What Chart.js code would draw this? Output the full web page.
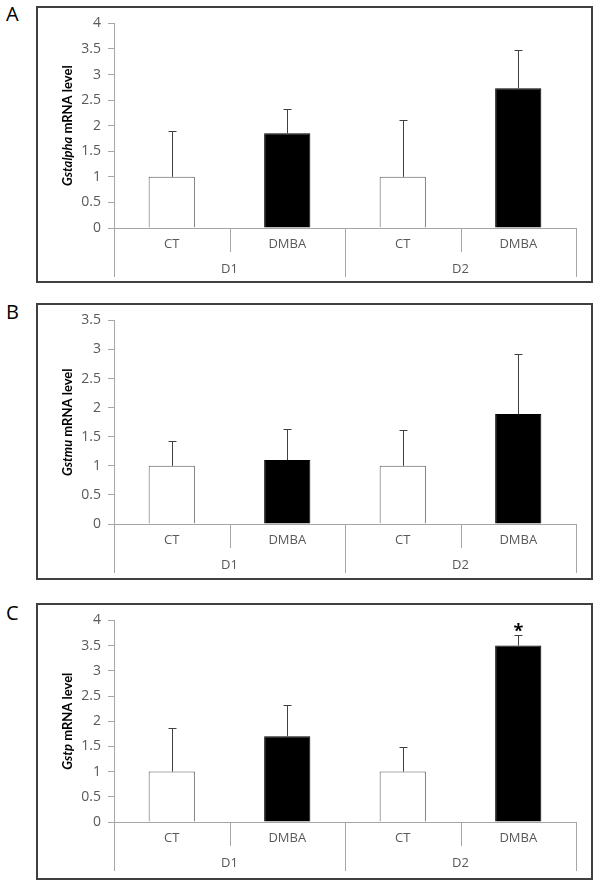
<!DOCTYPE html>
<html>
<head>
<meta charset="utf-8">
<script src="https://cdn.jsdelivr.net/npm/chart.js@4/dist/chart.umd.min.js"></script>
<style>
  body { margin: 0; background: #fff; width: 600px; height: 887px; position: relative; font-family: "Open Sans", sans-serif; }
  .panel { position: absolute; left: 36px; width: 557px; height: 277px; box-sizing: border-box; border: 2px solid #404040; }
  .panel canvas { display: block; }
  .tag { position: absolute; left: 6px; font-size: 20px; line-height: 1; color: #000; }
</style>
</head>
<body>
<div class="tag" style="top:4px">A</div>
<div class="panel" style="top:6px"><canvas id="chartA" width="553" height="273"></canvas></div>
<div class="tag" style="top:302px">B</div>
<div class="panel" style="top:303px"><canvas id="chartB" width="553" height="273"></canvas></div>
<div class="tag" style="top:603px">C</div>
<div class="panel" style="top:603px"><canvas id="chartC" width="553" height="273"></canvas></div>

<script>
// categories
const treatments = ["CT", "DMBA", "CT", "DMBA"];
const days = ["D1", "D2"];

// Gstalpha (panel A)
const gstalphaMean = [1, 1.85, 1, 2.73];
const gstalphaSd = [0.89, 0.48, 1.12, 0.75];

// Gstmu (panel B)
const gstmuMean = [1, 1.10, 1, 1.89];
const gstmuSd = [0.42, 0.53, 0.61, 1.03];

// Gstp (panel C)
const gstpMean = [1, 1.70, 1, 3.50];
const gstpSd = [0.86, 0.62, 0.48, 0.22];
const gstpStars = ["", "", "", "*"];

const axisGrey = "#a6a6a6";
const textGrey = "#595959";

function drawExtras(chart, sd, stars, gene) {
  const { ctx, chartArea: a, scales: { x, y } } = chart;
  const means = chart.data.datasets[0].data;
  ctx.save();

  // error bars (upper only)
  ctx.lineWidth = 1;
  ctx.strokeStyle = "#404040";
  means.forEach((m, i) => {
    const px = Math.round(x.getPixelForValue(i)) + 0.5;
    const y0 = y.getPixelForValue(m);
    const y1 = Math.round(y.getPixelForValue(m + sd[i])) + 0.5;
    ctx.beginPath();
    ctx.moveTo(px, y0);
    ctx.lineTo(px, y1);
    ctx.moveTo(px - 4, y1);
    ctx.lineTo(px + 4, y1);
    ctx.stroke();
    if (stars && stars[i]) {
      ctx.fillStyle = "#000";
      ctx.font = 'bold 18px "Open Sans"';
      ctx.textAlign = "center";
      ctx.textBaseline = "alphabetic";
      ctx.fillText(stars[i], px, y1 + 1);
    }
  });

  // two-level category axis separators
  const n = treatments.length;
  const per = n / days.length;
  const edge = i => i === 0 ? a.left : i === n ? a.right
    : (x.getPixelForValue(i - 1) + x.getPixelForValue(i)) / 2;
  ctx.strokeStyle = axisGrey;
  for (let i = 0; i <= n; i++) {
    const px = Math.round(edge(i)) + 0.5;
    const len = i % per === 0 ? 49 : 24;
    ctx.beginPath();
    ctx.moveTo(px, a.bottom);
    ctx.lineTo(px, a.bottom + len);
    ctx.stroke();
  }
  ctx.fillStyle = textGrey;
  ctx.font = '13px "Open Sans"';
  ctx.textAlign = "center";
  ctx.textBaseline = "middle";
  days.forEach((d, g) => {
    const cx = (edge(g * per) + edge((g + 1) * per)) / 2;
    ctx.fillText(d, cx, a.bottom + 41);
  });

  // y title with italic gene name
  const italic = 'italic bold 13px Lato';
  const normal = 'bold 13px Lato';
  const rest = " mRNA level";
  ctx.font = italic;
  const w1 = ctx.measureText(gene).width;
  ctx.font = normal;
  const w2 = ctx.measureText(rest).width;
  ctx.translate(30, (a.top + a.bottom) / 2);
  ctx.rotate(-Math.PI / 2);
  ctx.fillStyle = "#000";
  ctx.textAlign = "left";
  ctx.textBaseline = "middle";
  const start = -(w1 + w2) / 2;
  ctx.font = italic;
  ctx.fillText(gene, start, 0);
  ctx.font = normal;
  ctx.fillText(rest, start + w1, 0);
  ctx.restore();
}

function makeChart(id, means, sd, yMax, gene, stars, padTop, xHeight) {
  new Chart(document.getElementById(id), {
    type: "bar",
    data: {
      labels: treatments,
      datasets: [{
        data: means,
        backgroundColor: treatments.map(t => t === "CT" ? "#ffffff" : "#000000"),
        borderColor: treatments.map(t => t === "CT" ? "#595959" : "#000000"),
        borderWidth: 1,
        categoryPercentage: 1,
        barPercentage: 0.4
      }]
    },
    options: {
      responsive: false,
      animation: false,
      layout: { padding: { left: 0, right: 15, top: padTop, bottom: 0 } },
      plugins: { legend: { display: false }, tooltip: { enabled: false } },
      scales: {
        x: {
          ticks: { color: textGrey, font: { family: "Open Sans", size: 13 }, padding: 8, maxRotation: 0 },
          grid: { display: false, drawTicks: false },
          border: { color: axisGrey },
          afterFit: s => { s.height = xHeight; }
        },
        y: {
          min: 0,
          max: yMax,
          ticks: {
            stepSize: 0.5, color: textGrey, font: { family: "Open Sans", size: 14 }, padding: 7,
            callback: v => String(v)
          },
          grid: { drawOnChartArea: false, tickLength: 6, color: axisGrey },
          border: { color: axisGrey },
          afterFit: s => { s.width = 76; }
        }
      }
    },
    plugins: [{
      id: "extras",
      afterDatasetsDraw: chart => drawExtras(chart, sd, stars, gene)
    }]
  });
}

makeChart("chartA", gstalphaMean, gstalphaSd, 4, "Gstalpha", null, 13, 53);
makeChart("chartB", gstmuMean, gstmuSd, 3.5, "Gstmu", null, 13, 54);
makeChart("chartC", gstpMean, gstpSd, 4, "Gstp", gstpStars, 12, 56);
</script>
</body>
</html>
